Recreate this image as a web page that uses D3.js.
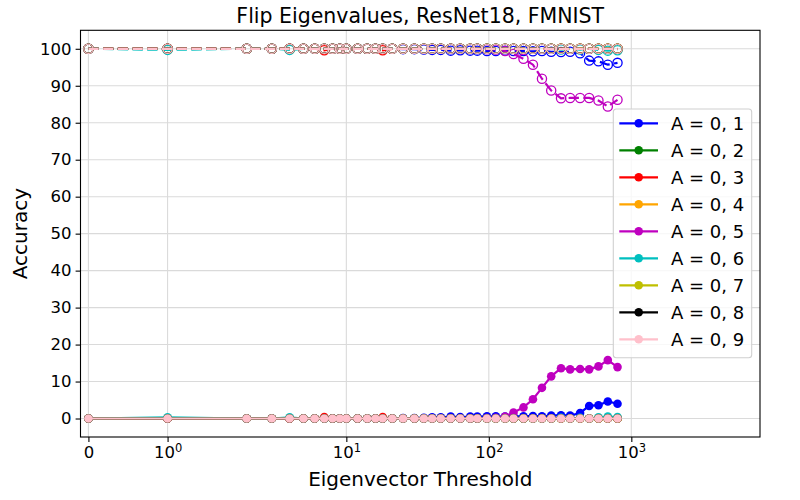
<!DOCTYPE html>
<html>
<head>
<meta charset="utf-8">
<script src="https://cdn.jsdelivr.net/npm/d3@7"></script>
<style>
    body { margin: 0; background: #fff; }
    text { font-family: "DejaVu Sans", sans-serif; }
</style>
</head>
<body>
<script>
const width = 800;
const height = 500;

let margin = {top: 30.3, right: 40, bottom: 63, left: 80.5};

// Eigenvector thresholds (x values)
const thresholds = [0, 1, 2, 3, 4, 5, 6, 7, 8, 9, 10, 12, 14, 16, 18, 21, 25, 30, 35, 40,
    46, 54, 63, 74, 83, 97, 112, 130, 149, 175, 204, 236, 274, 321, 372, 437, 506, 588, 684, 800];

const labels = ["A = 0, 1", "A = 0, 2", "A = 0, 3", "A = 0, 4", "A = 0, 5",
    "A = 0, 6", "A = 0, 7", "A = 0, 8", "A = 0, 9"];
const colors = ["#0000ff", "#008000", "#ff0000", "#ffa500", "#bf00bf",
    "#00bfbf", "#bfbf00", "#000000", "#ffc0cb"];

// Accuracy on the flipped set (solid lines, filled markers)
const flip01 = [0, 0, 0, 0, 0, 0, 0, 0, 0, 0, 0, 0, 0, 0, 0, 0, 0.1, 0.1, 0.2, 0.3,
    0.3, 0.5, 0.4, 0.5, 0.5, 0.6, 0.6, 0.5, 0.6, 0.6, 0.7, 0.6, 0.8, 0.9, 0.8, 1.5, 3.4, 3.6, 4.6, 4.0];
const flip02 = [0, 0, 0, 0, 0, 0, 0, 0, 0, 0, 0, 0, 0, 0, 0, 0, 0, 0, 0, 0,
    0, 0, 0, 0, 0, 0, 0, 0, 0, 0, 0, 0, 0, 0, 0, 0, 0, 0, 0, 0];
const flip03 = [0, 0, 0, 0, 0, 0, 0, 0.4, 0, 0, 0, 0, 0, 0, 0.4, 0, 0, 0, 0, 0,
    0, 0, 0, 0, 0, 0, 0, 0, 0, 0, 0, 0, 0, 0, 0, 0, 0, 0, 0, 0];
const flip04 = [0, 0, 0, 0, 0, 0, 0, 0, 0, 0, 0, 0, 0, 0, 0, 0, 0, 0, 0, 0,
    0, 0, 0, 0, 0, 0, 0, 0, 0, 0, 0, 0, 0, 0, 0, 0, 0, 0, 0, 0];
const flip05 = [0, 0, 0, 0, 0, 0, 0, 0, 0, 0, 0, 0, 0, 0, 0, 0, 0, 0, 0, 0,
    0, 0, 0, 0, 0, 0.1, 0.2, 0.5, 1.6, 3.0, 5.2, 8.3, 11.4, 13.6, 13.3, 13.4, 13.3, 14.1, 15.8, 13.9];
const flip06 = [0, 0.3, 0, 0, 0.3, 0, 0, 0, 0, 0, 0, 0, 0, 0, 0, 0, 0, 0, 0, 0,
    0, 0, 0, 0, 0, 0, 0, 0, 0, 0, 0, 0, 0, 0.2, 0, 0.2, 0, 0.3, 0.5, 0.4];
const flip07 = [0, 0, 0, 0, 0, 0, 0, 0, 0, 0, 0, 0, 0, 0, 0, 0, 0, 0, 0, 0,
    0, 0, 0, 0, 0, 0, 0, 0, 0, 0, 0, 0, 0, 0, 0, 0, 0, 0, 0, 0];
const flip08 = [0, 0, 0, 0, 0, 0, 0, 0, 0, 0, 0, 0, 0, 0, 0, 0, 0, 0, 0, 0,
    0, 0, 0, 0, 0, 0, 0, 0, 0, 0, 0, 0, 0, 0, 0, 0, 0, 0, 0, 0];
const flip09 = [0, 0, 0, 0, 0, 0, 0, 0, 0, 0, 0, 0, 0, 0, 0, 0, 0, 0, 0, 0,
    0, 0, 0, 0, 0, 0, 0, 0, 0, 0, 0, 0, 0, 0, 0, 0, 0, 0, 0, 0];

// Accuracy on the original set (dashed lines, open markers)
const orig01 = [100, 100, 100, 100, 100, 100, 100, 100, 100, 100, 100, 100, 100, 100, 100, 100, 99.9, 99.9, 99.8, 99.7,
    99.7, 99.5, 99.6, 99.5, 99.5, 99.4, 99.4, 99.5, 99.4, 99.4, 99.3, 99.4, 99.2, 99.1, 99.2, 98.8, 96.8, 96.6, 95.7, 96.2];
const orig02 = [100, 100, 100, 100, 100, 100, 100, 100, 100, 100, 100, 100, 100, 100, 100, 100, 100, 100, 100, 100,
    100, 100, 100, 100, 100, 100, 100, 100, 100, 100, 100, 100, 100, 100, 100, 100, 100, 100, 100, 100];
const orig03 = [100, 100, 100, 100, 100, 100, 100, 99.6, 100, 100, 100, 100, 100, 100, 99.6, 100, 100, 100, 100, 100,
    100, 100, 100, 100, 100, 100, 100, 100, 100, 100, 100, 100, 100, 100, 100, 100, 100, 100, 100, 100];
const orig04 = [100, 100, 100, 100, 100, 100, 100, 100, 100, 100, 100, 100, 100, 100, 100, 100, 100, 100, 100, 100,
    100, 100, 100, 100, 100, 100, 100, 100, 100, 100, 100, 100, 100, 100, 100, 100, 100, 100, 100, 100];
const orig05 = [100, 100, 100, 100, 100, 100, 100, 100, 100, 100, 100, 100, 100, 100, 100, 100, 100, 100, 100, 100,
    100, 100, 100, 100, 100, 99.9, 99.8, 99.4, 98.6, 97.3, 95.7, 91.9, 88.7, 86.6, 86.7, 86.7, 86.7, 86.0, 84.4, 86.2];
const orig06 = [100, 99.7, 100, 100, 99.7, 100, 100, 100, 100, 100, 100, 100, 100, 100, 100, 100, 100, 100, 100, 100,
    100, 100, 100, 100, 100, 100, 100, 100, 100, 100, 100, 100, 100, 99.8, 100, 99.8, 100, 99.7, 99.5, 99.6];
const orig07 = [100, 100, 100, 100, 100, 100, 100, 100, 100, 100, 100, 100, 100, 100, 100, 100, 100, 100, 100, 100,
    100, 100, 100, 100, 100, 100, 100, 100, 100, 100, 100, 100, 100, 100, 100, 100, 100, 100, 100, 100];
const orig08 = [100, 100, 100, 100, 100, 100, 100, 100, 100, 100, 100, 100, 100, 100, 100, 100, 100, 100, 100, 100,
    100, 100, 100, 100, 100, 100, 100, 100, 100, 100, 100, 100, 100, 100, 100, 100, 100, 100, 100, 100];
const orig09 = [100, 100, 100, 100, 100, 100, 100, 100, 100, 100, 100, 100, 100, 100, 100, 100, 100, 100, 100, 100,
    100, 100, 100, 100, 100, 100, 100, 100, 100, 100, 100, 100, 100, 100, 100, 100, 100, 100, 100, 100];

const flipSeries = [flip01, flip02, flip03, flip04, flip05, flip06, flip07, flip08, flip09];
const origSeries = [orig01, orig02, orig03, orig04, orig05, orig06, orig07, orig08, orig09];

const xTickValues = [0, 1, 10, 100, 1000];
const yTickValues = [0, 10, 20, 30, 40, 50, 60, 70, 80, 90, 100];

// matplotlib-style symlog transform (base 10, linthresh 2, linscale 1)
const linthresh = 2;
const linscaleAdj = 1 / (1 - 1 / 10);
function symT(v) {
    let a = Math.abs(v);
    if (a <= linthresh) return v * linscaleAdj;
    return Math.sign(v) * linthresh * (linscaleAdj + Math.log10(a / linthresh));
}

let svg = d3.select("body")
    .append("svg")
    .attr("width", width)
    .attr("height", height);

let xT = d3.scaleLinear()
    .domain([symT(-0.1), symT(8000)])
    .range([margin.left, width - margin.right]);
let x = v => xT(symT(v));

let y = d3.scaleLinear()
    .domain([-5, 105])
    .range([height - margin.bottom, margin.top]);

// grid
let grid = svg.append("g").attr("id", "grid");
grid.selectAll("line.gx")
    .data(xTickValues)
    .join("line")
    .attr("class", "gx")
    .attr("x1", d => x(d)).attr("x2", d => x(d))
    .attr("y1", margin.top).attr("y2", height - margin.bottom)
    .attr("stroke", "#dadada").attr("stroke-width", 1.1);
grid.selectAll("line.gy")
    .data(yTickValues)
    .join("line")
    .attr("class", "gy")
    .attr("x1", margin.left).attr("x2", width - margin.right)
    .attr("y1", d => y(d)).attr("y2", d => y(d))
    .attr("stroke", "#dadada").attr("stroke-width", 1.1);

// axes
let bottomAxis = d3.axisBottom(xT)
    .tickValues(xTickValues.map(symT))
    .tickSizeOuter(0)
    .tickSize(4.9)
    .tickPadding(4);
let bottomContainer = svg.append("g")
    .attr("transform", `translate(0, ${height - margin.bottom})`)
    .call(bottomAxis);
bottomContainer.selectAll(".tick text").each(function(d, i) {
    let t = d3.select(this).text("")
        .attr("font-size", 16.5)
        .attr("fill", "#000");
    let v = xTickValues[i];
    if (v === 0) {
        t.append("tspan").text("0");
    } else {
        t.append("tspan").text("10");
        t.append("tspan")
            .attr("font-size", 11.5)
            .attr("dy", "-0.45em")
            .text(String(Math.round(Math.log10(v))));
    }
});

let leftAxis = d3.axisLeft(y)
    .tickValues(yTickValues)
    .tickSizeOuter(0)
    .tickSize(4.9)
    .tickPadding(4);
svg.append("g")
    .attr("transform", `translate(${margin.left}, 0)`)
    .call(leftAxis)
    .selectAll(".tick text")
    .attr("font-size", 16.5)
    .attr("fill", "#000");

svg.selectAll(".domain").remove();
svg.selectAll(".tick line").attr("stroke", "#000").attr("stroke-width", 1.1);

// data lines
let line = d3.line()
    .x(d => x(d[0]))
    .y(d => y(d[1]));

let plot = svg.append("g").attr("id", "plot");
flipSeries.forEach((vals, i) => {
    let pts = thresholds.map((t, j) => [t, vals[j]]);
    let g = plot.append("g");
    g.append("path")
        .datum(pts)
        .attr("d", line)
        .attr("fill", "none")
        .attr("stroke", colors[i])
        .attr("stroke-width", 2.2);
    g.selectAll("circle")
        .data(pts)
        .join("circle")
        .attr("cx", d => x(d[0]))
        .attr("cy", d => y(d[1]))
        .attr("r", 4.3)
        .attr("fill", colors[i]);

    let opts = thresholds.map((t, j) => [t, origSeries[i][j]]);
    let h = plot.append("g");
    h.append("path")
        .datum(opts)
        .attr("d", line)
        .attr("fill", "none")
        .attr("stroke", colors[i])
        .attr("stroke-width", 2.2)
        .attr("stroke-dasharray", "10.3,4.4");
    h.selectAll("circle")
        .data(opts)
        .join("circle")
        .attr("cx", d => x(d[0]))
        .attr("cy", d => y(d[1]))
        .attr("r", 4.6)
        .attr("fill", "none")
        .attr("stroke", colors[i])
        .attr("stroke-width", 1.3);
});

// frame
svg.append("rect")
    .attr("x", margin.left)
    .attr("y", margin.top)
    .attr("width", width - margin.right - margin.left)
    .attr("height", height - margin.bottom - margin.top)
    .attr("fill", "none")
    .attr("stroke", "#000")
    .attr("stroke-width", 1.1);

// legend
let legend = svg.append("g").attr("transform", "translate(613.3, 109)");
legend.append("rect")
    .attr("width", 138.4)
    .attr("height", 248.7)
    .attr("rx", 3)
    .attr("fill", "#fff")
    .attr("fill-opacity", 0.8)
    .attr("stroke", "#d0d0d0")
    .attr("stroke-width", 1.1);
let entries = legend.selectAll("g.entry")
    .data(labels)
    .join("g")
    .attr("class", "entry")
    .attr("transform", (d, i) => `translate(0, ${14.3 + i * 27})`);
entries.append("line")
    .attr("x1", 6).attr("x2", 44.7)
    .attr("stroke", (d, i) => colors[i])
    .attr("stroke-width", 2.2);
entries.append("circle")
    .attr("cx", 25.4)
    .attr("r", 4.3)
    .attr("fill", (d, i) => colors[i]);
entries.append("text")
    .attr("x", 57.7)
    .attr("y", 6.5)
    .attr("font-size", 18)
    .text(d => d);

// title and axis labels
svg.append("text")
    .attr("x", (margin.left + width - margin.right) / 2)
    .attr("y", 23)
    .attr("text-anchor", "middle")
    .attr("font-size", 20.5)
    .text("Flip Eigenvalues, ResNet18, FMNIST");

svg.append("text")
    .attr("x", (margin.left + width - margin.right) / 2)
    .attr("y", 485.5)
    .attr("text-anchor", "middle")
    .attr("font-size", 20)
    .text("Eigenvector Threshold");

svg.append("text")
    .attr("transform", `translate(27, ${(margin.top + height - margin.bottom) / 2}) rotate(-90)`)
    .attr("text-anchor", "middle")
    .attr("font-size", 20)
    .text("Accuracy");
</script>
</body>
</html>
